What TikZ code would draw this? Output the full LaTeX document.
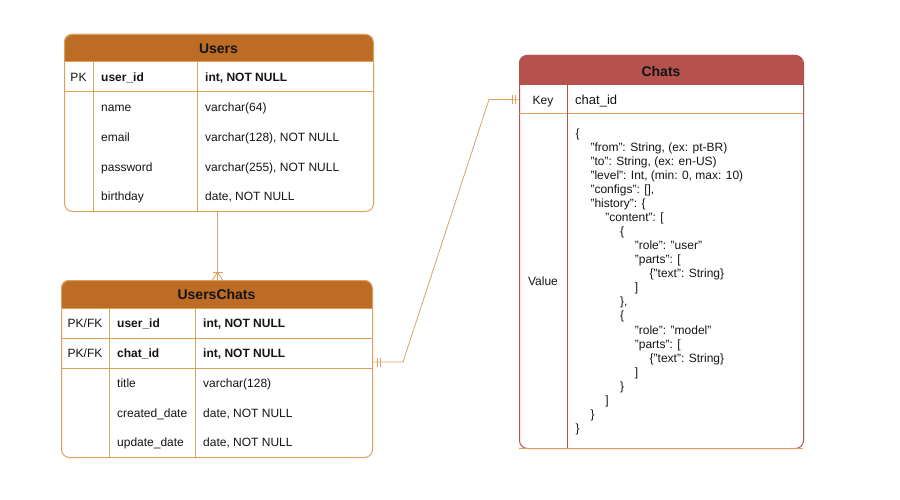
\documentclass[tikz,border=0pt]{standalone}
\usepackage{fontspec}
\setmainfont{Liberation Sans}
\usetikzlibrary{calc}
\definecolor{hdrO}{RGB}{188,108,37}
\definecolor{strO}{RGB}{221,161,94}
\definecolor{hdrR}{RGB}{181,82,78}
\definecolor{txt}{RGB}{20,20,20}
\begin{document}
\begin{tikzpicture}[x=1pt,y=-1pt,
  frameO/.style={draw=strO, line width=1pt, rounded corners=8pt, inner sep=0pt, anchor=north west},
  frameR/.style={draw=hdrR, line width=1pt, rounded corners=8pt, inner sep=0pt, anchor=north west},
  lineO/.style={draw=strO, line width=1pt},
  lineR/.style={draw=hdrR, line width=1pt},
  cell/.style={inner sep=0pt, anchor=base west, text=txt, font=\fontsize{12}{14}\selectfont},
  ccell/.style={cell, anchor=base},
  bcell/.style={cell, font=\bfseries\fontsize{12}{14}\selectfont},
  hdr/.style={inner sep=0pt, anchor=base, text=txt, font=\bfseries\fontsize{14}{16}\selectfont},
  jline/.style={inner sep=0pt, anchor=base west, text=txt, font=\fontsize{12}{13}\selectfont},
  conn/.style={draw=strO, line width=0.8pt}
]
\useasboundingbox (0,0) rectangle (900,500);

% ---------------- Users ----------------
\fill[hdrO] (64,62) [rounded corners=8pt]-- (64,34) -- (373,34) [sharp corners]-- (373,62) -- cycle;
\node[frameO, minimum width=309pt, minimum height=177pt] (users) at (64,34) {};
\draw[lineO] (64,62) -- (373,62);
\draw[lineO] (64,92) -- (373,92);
\draw[lineO] (93,62) -- (93,211);
\draw[lineO] (197,62) -- (197,211);
\node[hdr] (usersT) at (218.5,53.5) {Users};
\node[ccell] (u1a) at (78.5,81.7) {PK};
\node[bcell] (u1b) at (101,81.7) {user\_id};
\node[bcell] (u1c) at (205,81.7) {int, NOT NULL};
\node[cell] (u2b) at (101,111.6) {name};
\node[cell] (u2c) at (205,111.6) {varchar(64)};
\node[cell] (u3b) at (101,141.3) {email};
\node[cell] (u3c) at (205,141.3) {varchar(128), NOT NULL};
\node[cell] (u4b) at (101,171.1) {password};
\node[cell] (u4c) at (205,171.1) {varchar(255), NOT NULL};
\node[cell] (u5b) at (101,200.8) {birthday};
\node[cell] (u5c) at (205,200.8) {date, NOT NULL};

% ---------------- UsersChats ----------------
\fill[hdrO] (61,308) [rounded corners=8pt]-- (61,280) -- (372,280) [sharp corners]-- (372,308) -- cycle;
\node[frameO, minimum width=311pt, minimum height=177pt] (uc) at (61,280) {};
\draw[lineO] (61,308) -- (372,308);
\draw[lineO] (61,338) -- (372,338);
\draw[lineO] (61,368) -- (372,368);
\draw[lineO] (109,308) -- (109,457);
\draw[lineO] (195,308) -- (195,457);
\node[hdr] (ucT) at (216.5,299.5) {UsersChats};
\node[ccell] (c1a) at (85,327.7) {PK/FK};
\node[bcell] (c1b) at (117,327.7) {user\_id};
\node[bcell] (c1c) at (203,327.7) {int, NOT NULL};
\node[ccell] (c2a) at (85,357.7) {PK/FK};
\node[bcell] (c2b) at (117,357.7) {chat\_id};
\node[bcell] (c2c) at (203,357.7) {int, NOT NULL};
\node[cell] (c3b) at (117,387.5) {title};
\node[cell] (c3c) at (203,387.5) {varchar(128)};
\node[cell] (c4b) at (117,417.2) {created\_date};
\node[cell] (c4c) at (203,417.2) {date, NOT NULL};
\node[cell] (c5b) at (117,446.9) {update\_date};
\node[cell] (c5c) at (203,446.9) {date, NOT NULL};

% ---------------- Chats ----------------
\fill[hdrR] (519,85) [rounded corners=8pt]-- (519,55) -- (803,55) [sharp corners]-- (803,85) -- cycle;
\node[frameR, minimum width=284pt, minimum height=393pt] (chats) at (519,55) {};
\draw[lineO] (519,114) -- (803,114);
\draw[lineO] (519,448) -- (803,448);
\draw[lineR] (567,85) -- (567,448);
\node[hdr] (chatsT) at (661,76.5) {Chats};
\node[inner sep=0pt, minimum width=284pt, minimum height=29pt, anchor=north west] (chatkey) at (519,85) {};
\node[ccell] (k1a) at (543,104.2) {Key};
\node[cell, font=\fontsize{13}{15}\selectfont] (k1b) at (575,104.2) {chat\_id};
\node[ccell] (k2a) at (543,285.7) {Value};

\foreach \lv/\tx [count=\n] in {
  0/{\{},
  1/{"from": String, (ex: pt-BR)},
  1/{"to": String, (ex: en-US)},
  1/{"level": Int, (min: 0, max: 10)},
  1/{"configs": [],},
  1/{"history": \{},
  2/{"content": [},
  3/{\{},
  4/{"role": "user"},
  4/{"parts": [},
  5/{\{"text": String\}},
  4/{]},
  3/{\},},
  3/{\{},
  4/{"role": "model"},
  4/{"parts": [},
  5/{\{"text": String\}},
  4/{]},
  3/{\}},
  2/{]},
  1/{\}},
  0/{\}}}
{
  \node[jline] (j\n) at ({575.5+14.8*\lv},{137.3+14.05*(\n-1)}) {\tx};
}

% ---------------- connectors ----------------
\coordinate (usersOut) at (users.south -| 217.5,0);
\coordinate (ucIn) at (uc.north -| 217.5,0);
\draw[conn] (usersOut) -- (ucIn);
% crow's foot (one-to-many) at UsersChats
\draw[conn] ($(ucIn)+(-5,-8)$) -- ($(ucIn)+(5,-8)$);
\draw[conn] ($(ucIn)+(0,-8)$) -- ($(ucIn)+(-5,0)$);
\draw[conn] ($(ucIn)+(0,-8)$) -- ($(ucIn)+(5,0)$);

\coordinate (ucOut) at (372,362);
\coordinate (bend1) at (403,362);
\coordinate (bend2) at (489,99.5);
\draw[conn] (ucOut) -- (bend1) -- (bend2) -- (chatkey.west);
% mandatory one marks
\draw[conn] ($(ucOut)+(5,-4.5)$) -- ($(ucOut)+(5,4.5)$);
\draw[conn] ($(ucOut)+(8.5,-4.5)$) -- ($(ucOut)+(8.5,4.5)$);
\draw[conn] ($(chatkey.west)+(-7,-4.5)$) -- ($(chatkey.west)+(-7,4.5)$);
\draw[conn] ($(chatkey.west)+(-3.5,-4.5)$) -- ($(chatkey.west)+(-3.5,4.5)$);
\end{tikzpicture}
\end{document}
